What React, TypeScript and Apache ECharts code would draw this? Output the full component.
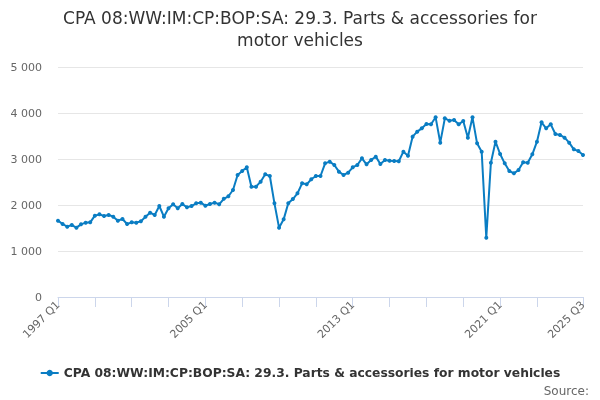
import React, { useEffect, useRef } from "react";
import * as echarts from "echarts";

const startYear = 1997;
const values: number[] = [
  1659, 1587, 1529, 1565, 1507, 1580, 1616, 1623, 1768, 1797,
  1761, 1783, 1746, 1659, 1696, 1587, 1623, 1616, 1645, 1746,
  1833, 1783, 1978, 1746, 1928, 2015, 1928, 2022, 1949, 1978,
  2036, 2051, 1985, 2022, 2051, 2015, 2135, 2190, 2326, 2652,
  2739, 2819, 2398, 2398, 2507, 2667, 2630, 2036, 1507, 1688,
  2036, 2130, 2254, 2471, 2450, 2560, 2630, 2630, 2906, 2942,
  2870, 2725, 2652, 2703, 2819, 2870, 3015, 2884, 2978, 3051,
  2891, 2978, 2964, 2957, 2950, 3159, 3072, 3486, 3594, 3667,
  3761, 3754, 3906, 3355, 3884, 3833, 3848, 3754, 3826, 3464,
  3906, 3341, 3159, 1290, 2920, 3377, 3109, 2906, 2739, 2688,
  2761, 2928, 2920, 3102, 3377, 3797, 3667, 3754, 3543, 3522,
  3464, 3355, 3210, 3174, 3087,
];
const categories: string[] = values.map(
  (_, i) => `${startYear + Math.floor(i / 4)} Q${(i % 4) + 1}`
);
const yTicks = [0, 1000, 2000, 3000, 4000, 5000];

const titleText =
  "CPA 08:WW:IM:CP:BOP:SA: 29.3. Parts & accessories for\nmotor vehicles";
const seriesName =
  "CPA 08:WW:IM:CP:BOP:SA: 29.3. Parts & accessories for motor vehicles";

export default function App() {
  const ref = useRef<HTMLDivElement>(null);
  useEffect(() => {
    if (!ref.current) return;
    const chart = echarts.init(ref.current, undefined, { renderer: "svg" });
    const last = categories.length - 1;
    const font = "DejaVu Sans";
    chart.setOption({
      animation: false,
      textStyle: { fontFamily: font },
      legend: {
        bottom: 16,
        left: "center",
        itemWidth: 18,
        itemHeight: 8,
        itemGap: 10,
        textStyle: {
          fontFamily: font,
          fontSize: 12.3,
          fontWeight: "bold",
          color: "#333333",
        },
        data: [seriesName],
      },
      graphic: [
        {
          type: "text",
          left: "center",
          top: 7,
          style: {
            text: titleText,
            textAlign: "center",
            fontFamily: font,
            fontSize: 17,
            lineHeight: 22,
            fill: "#333333",
          },
        },
        {
          type: "text",
          right: 11,
          bottom: 3,
          style: {
            text: "Source:",
            fontFamily: font,
            fontSize: 12,
            fill: "#666666",
          },
        },
      ],
      grid: {
        left: 58,
        right: 17,
        top: 67,
        bottom: 103,
        containLabel: false,
        outerBoundsMode: "none",
      },
      xAxis: {
        type: "category",
        data: categories,
        boundaryGap: false,
        axisLine: { lineStyle: { color: "#ccd6eb", width: 1 } },
        axisTick: {
          length: 10,
          lineStyle: { color: "#ccd6eb" },
          interval: (i: number) => (i % 8 === 0 && i !== 112) || i === last,
        },
        axisLabel: {
          rotate: 45,
          fontSize: 11,
          color: "#666666",
          fontFamily: font,
          margin: 6,
          interval: (i: number) => i % 32 === 0 || i === last,
        },
        splitLine: { show: false },
      },
      yAxis: {
        type: "value",
        min: yTicks[0],
        max: yTicks[yTicks.length - 1],
        interval: 1000,
        axisLine: { show: false },
        axisTick: { show: false },
        splitLine: { lineStyle: { color: "#e6e6e6", width: 1 } },
        axisLabel: {
          fontSize: 11,
          color: "#666666",
          fontFamily: font,
          margin: 16,
          formatter: (v: number) =>
            String(v).replace(/\B(?=(\d{3})+(?!\d))/g, " "),
        },
      },
      series: [
        {
          name: seriesName,
          type: "line",
          data: values,
          color: "#0a7dc3",
          lineStyle: { width: 2, color: "#0a7dc3" },
          symbol: "circle",
          symbolSize: 4,
          showSymbol: true,
          showAllSymbol: true,
          itemStyle: { color: "#0a7dc3" },
        },
      ],
    });
    return () => chart.dispose();
  }, []);
  return (
    <div
      ref={ref}
      style={{ position: "fixed", left: 0, top: 0, width: 600, height: 400 }}
    />
  );
}
